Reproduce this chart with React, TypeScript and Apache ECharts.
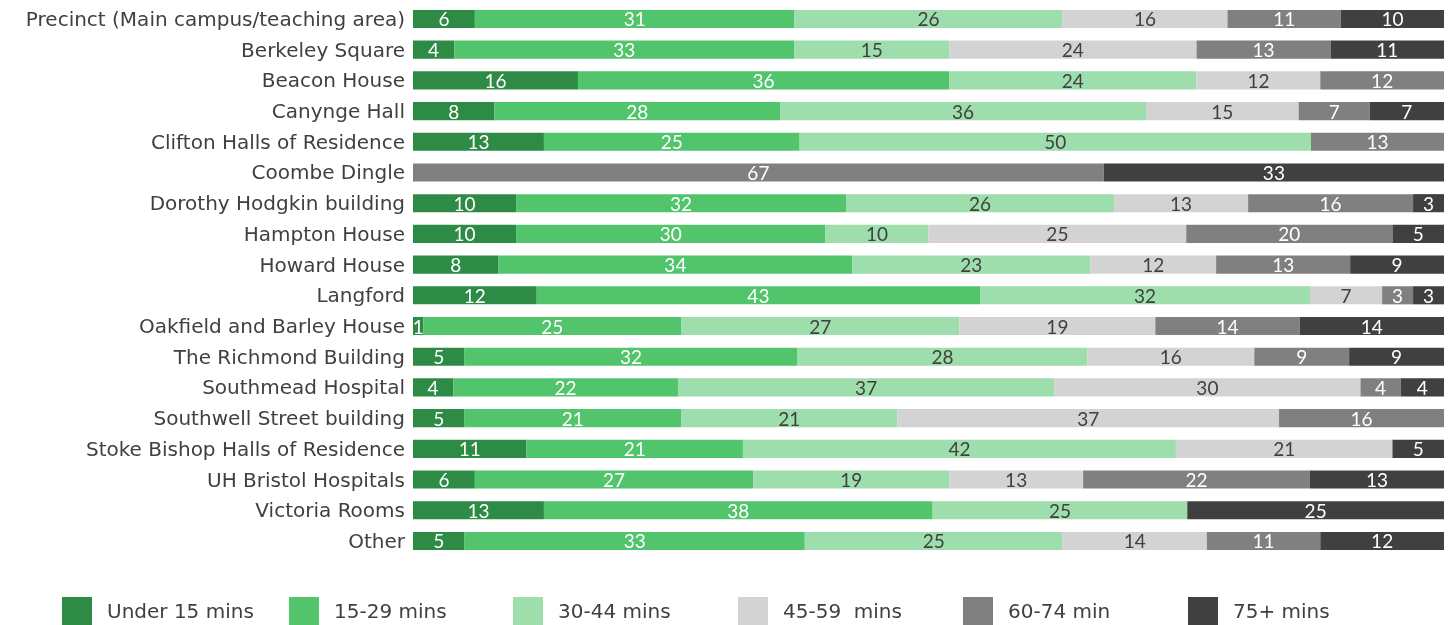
import React, { useEffect, useRef } from "react";
import * as echarts from "echarts";

const categories = [
  "Precinct (Main campus/teaching area)",
  "Berkeley Square",
  "Beacon House",
  "Canynge Hall",
  "Clifton Halls of Residence",
  "Coombe Dingle",
  "Dorothy Hodgkin building",
  "Hampton House",
  "Howard House",
  "Langford",
  "Oakfield and Barley House",
  "The Richmond Building",
  "Southmead Hospital",
  "Southwell Street building",
  "Stoke Bishop Halls of Residence",
  "UH Bristol Hospitals",
  "Victoria Rooms",
  "Other",
];

const seriesNames = ["Under 15 mins", "15-29 mins", "30-44 mins", "45-59  mins", "60-74 min", "75+ mins"];

const under15 = [6, 4, 16, 7.9, 12.7, null, 10, 10, 8.3, 12, 1, 5.0, 3.9, 5, 11, 6, 12.7, 5];
const m15to29 = [31, 33, 36, 27.7, 24.8, null, 32, 30, 34.3, 43, 25, 32.3, 21.8, 21, 21, 27, 37.7, 33];
const m30to44 = [26, 15, 24, 35.5, 49.6, null, 26, 10, 23.1, 32, 27, 28.1, 36.5, 21, 42, 19, 24.7, 25];
const m45to59 = [16, 24, 12, 14.8, null, null, 13, 25, 12.2, 7, 19, 16.2, 29.7, 37, 21, 13, null, 14];
const m60to74 = [11, 13, 12, 6.9, 12.9, 67, 16, 20, 13.0, 3, 14, 9.2, 3.9, 16, null, 22, null, 11];
const m75plus = [10, 11, null, 7.2, null, 33, 3, 5, 9.1, 3, 14, 9.2, 4.2, null, 5, 13, 24.9, 12];

const seriesData = [under15, m15to29, m30to44, m45to59, m60to74, m75plus];
const colors = ["#2e8b46", "#52c46c", "#9ddeac", "#d3d3d3", "#808080", "#404040"];
const labelColors = ["#ffffff", "#ffffff", "#404040", "#404040", "#ffffff", "#ffffff"];
const legendLefts = [62, 289, 513, 738, 963, 1188];

const FONT = "Lato";
const LABEL_FONT = "DejaVu Sans";

export default function App() {
  const ref = useRef<HTMLDivElement>(null);
  useEffect(() => {
    if (!ref.current) return;
    const chart = echarts.init(ref.current, undefined, { renderer: "svg" });
    chart.setOption({
      animation: false,
      textStyle: { fontFamily: FONT },
      grid: { left: 413, right: 11, top: 3.6, height: 552.7, containLabel: false },
      xAxis: { type: "value", min: 0, max: 100, show: false },
      yAxis: {
        type: "category",
        data: categories,
        inverse: true,
        axisLine: { show: false },
        axisTick: { show: false },
        axisLabel: { color: "#404040", fontSize: 20, fontFamily: LABEL_FONT, margin: 8 },
      },
      legend: seriesNames.map((n, i) => ({
        data: [n],
        left: legendLefts[i],
        top: 597,
        padding: 0,
        itemWidth: 30,
        itemHeight: 28,
        icon: "rect",
        textStyle: { color: "#404040", fontSize: 20, fontFamily: LABEL_FONT, padding: [0, 0, 0, 10] },
      })),
      series: seriesNames.map((n, i) => ({
        name: n,
        type: "bar",
        stack: "total",
        data: seriesData[i],
        barCategoryGap: "41%",
        itemStyle: { color: colors[i] },
        label: {
          show: true,
          position: "inside",
          color: labelColors[i],
          fontSize: 19,
          fontFamily: FONT,
          formatter: (p: any) => (p.value == null ? "" : String(Math.round(p.value))),
        },
      })),
    });
    return () => chart.dispose();
  }, []);
  return <div ref={ref} style={{ position: "fixed", left: 0, top: 0, width: 1455, height: 625 }} />;
}
